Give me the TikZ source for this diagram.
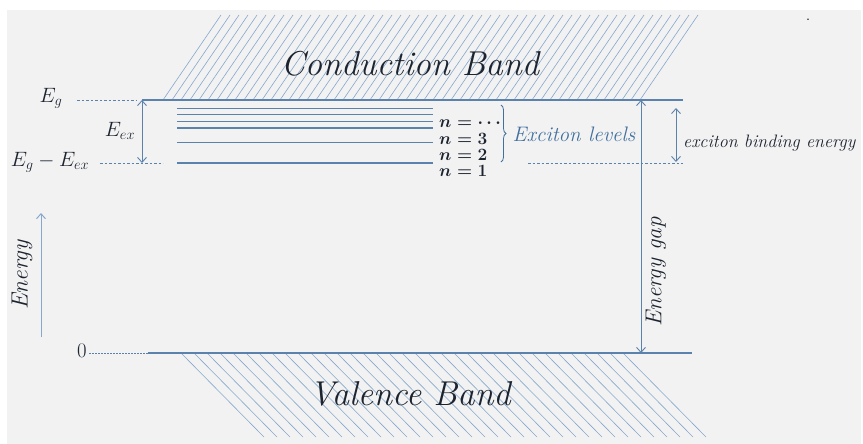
\documentclass[tikz,border=0pt]{standalone}
\usepackage{amsmath,amssymb}
\usepackage{tikz}
\usetikzlibrary{arrows.meta, positioning, decorations.pathreplacing}
\definecolor{bandblue}{HTML}{5B82AC}
\definecolor{hatchblue}{HTML}{86A8CE}
\definecolor{labelblue}{HTML}{41709F}
\definecolor{paper}{HTML}{F2F2F2}
\definecolor{ink}{HTML}{1C2430}

\begin{document}
\begin{tikzpicture}[
    x=1pt, y=-1pt,
    band line/.style={draw=bandblue, line width=1.3pt},
    level line/.style={draw=bandblue, line width=0.8pt},
    guide line/.style={draw=bandblue, dash pattern=on 2.5pt off 2pt, line width=0.8pt},
    hatch line/.style={draw=hatchblue, line width=0.6pt},
    gap arrow/.style={draw=bandblue, line width=0.9pt,
        {Straight Barb[length=5pt,width=9pt]}-{Straight Barb[length=5pt,width=9pt]}},
    band label/.style={font=\fontsize{34.5}{38}\selectfont\itshape, text=ink},
    side label/.style={font=\fontsize{21}{23}\selectfont, text=ink},
    n label/.style={font=\fontsize{18.5}{20}\selectfont\boldmath, inner sep=0pt, anchor=west, text=ink},
]
    \useasboundingbox (0,0) rectangle (863,444);
    \fill[paper] (7,10) rectangle (861,444);

    % Conduction band
    \begin{scope}
        \clip (160,100) -- (218,15) -- (705,15) -- (647,100) -- cycle;
        \foreach \x in {100,109,...,720}
            \draw[hatch line] (\x,100) -- ++(58,-85);
    \end{scope}
    \node[band label] (cb) at (410,64) {Conduction Band};

    % Valence band
    \begin{scope}
        \clip (172,353) -- (630,353) -- (713,437) -- (255,437) -- cycle;
        \foreach \x in {90,103,...,720}
            \draw[hatch line] (\x,353) -- ++(83,84);
    \end{scope}
    \node[band label] (vb) at (410,394) {Valence Band};

    % Band edges
    \coordinate (cbl) at (142,100);
    \coordinate (cbr) at (683,100);
    \coordinate (vbl) at (148,353);
    \coordinate (vbr) at (692,353);
    \draw[band line] (cbl) -- (cbr);
    \draw[band line] (vbl) -- (vbr);

    % Exciton levels
    \foreach \y/\w [count=\i] in {108/0.8, 114/0.8, 121/0.9, 128/1.3, 142/0.8, 163/1.2} {
        \coordinate (lv\i w) at (177,\y);
        \coordinate (lv\i e) at (433,\y);
        \draw[level line, line width=\w pt] (lv\i w) -- (lv\i e);
    }
    \node[n label] (ndots) at (439,123) {$n = \cdots$};
    \node[n label] (n3) at (439,139) {$n = 3$};
    \node[n label] (n2) at (439,155) {$n = 2$};
    \node[n label] (n1) at (439,171) {$n = 1$};
    \coordinate (brtop) at (501,105);
    \coordinate (brbot) at (501,162);
    \draw[draw=labelblue, line width=0.8pt, decorate,
        decoration={brace, amplitude=5pt}] (brtop) -- (brbot);
    \node[font=\fontsize{21}{23}\selectfont\itshape, text=labelblue] (exlev) at (574,134) {Exciton levels};

    % Left labels
    \node[side label] (eg) at (51,98) {$E_g$};
    \node[side label] (eex) at (120,131) {$E_{ex}$};
    \node[side label] (egex) at (50,162) {$E_g - E_{ex}$};
    \node[side label] (zero) at (82,351) {$0$};
    \coordinate (eggl) at (77,100);
    \coordinate (egexgl) at (100,163);
    \coordinate (egexgr) at (163,163);
    \coordinate (zerogl) at (89,353);
    \draw[guide line] (eggl) -- ([xshift=-5pt]cbl);
    \draw[guide line] (egexgl) -- (egexgr);
    \draw[guide line, dash pattern=on 1.5pt off 1.5pt] (zerogl) -- (vbl);
    \coordinate (eexb) at (142,163);
    \draw[gap arrow] (cbl) -- (eexb);

    % Energy axis
    \coordinate (ax0) at (41,337);
    \coordinate (ax1) at (41,213);
    \draw[draw=hatchblue, line width=1pt, -{Straight Barb[length=5pt,width=9pt]}] (ax0) -- (ax1);
    \node[side label, rotate=90, font=\fontsize{23.5}{25}\selectfont\itshape] (energy) at (22,275) {Energy};

    % Energy gap
    \coordinate (gapt) at (641,100);
    \coordinate (gapb) at (641,353);
    \draw[gap arrow] (gapt) -- (gapb);
    \node[side label, rotate=90, font=\fontsize{23}{25}\selectfont\itshape] (gap) at (656,272) {Energy gap};

    % Binding energy
    \coordinate (bet) at (676,108);
    \coordinate (beb) at (676,162);
    \coordinate (begl) at (528,163);
    \coordinate (begr) at (683,163);
    \draw[gap arrow] (bet) -- (beb);
    \draw[guide line] (begl) -- (begr);
    \node[side label, anchor=west, inner sep=1pt, font=\fontsize{18}{20}\selectfont\itshape] (bind) at (682,143) {exciton binding energy};

    \node[font=\fontsize{18}{18}\selectfont, inner sep=0pt, anchor=base] (dot) at (808,21) {.};
\end{tikzpicture}
\end{document}
